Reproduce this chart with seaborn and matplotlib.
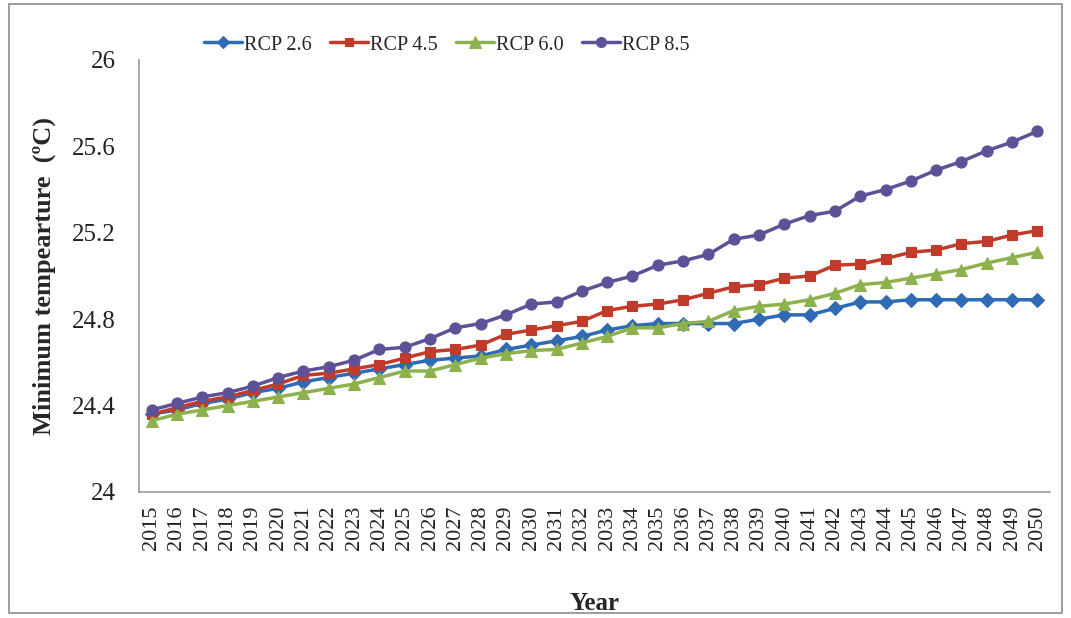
import numpy as np
import pandas as pd
import matplotlib
matplotlib.use("Agg")
import matplotlib.pyplot as plt
import seaborn as sns
from matplotlib.patches import Rectangle

# Data
years = list(range(2015, 2051))

rcp26 = [24.36, 24.38, 24.41, 24.43, 24.46, 24.48, 24.51, 24.53, 24.55, 24.57,
         24.59, 24.61, 24.62, 24.63, 24.66, 24.68, 24.70, 24.72, 24.75, 24.77,
         24.78, 24.78, 24.78, 24.78, 24.80, 24.82, 24.82, 24.85, 24.88, 24.88,
         24.89, 24.89, 24.89, 24.89, 24.89, 24.89]
rcp45 = [24.36, 24.39, 24.42, 24.44, 24.47, 24.50, 24.54, 24.55, 24.57, 24.59,
         24.62, 24.65, 24.66, 24.68, 24.73, 24.75, 24.77, 24.79, 24.84, 24.86,
         24.87, 24.89, 24.92, 24.95, 24.96, 24.99, 25.00, 25.05, 25.055, 25.08,
         25.11, 25.12, 25.15, 25.16, 25.19, 25.21]
rcp60 = [24.33, 24.36, 24.38, 24.40, 24.42, 24.44, 24.46, 24.48, 24.50, 24.53,
         24.56, 24.56, 24.59, 24.62, 24.64, 24.655, 24.66, 24.69, 24.72, 24.76,
         24.76, 24.78, 24.79, 24.84, 24.86, 24.87, 24.89, 24.92, 24.96, 24.97,
         24.99, 25.01, 25.03, 25.06, 25.085, 25.11]
rcp85 = [24.38, 24.41, 24.44, 24.46, 24.49, 24.53, 24.56, 24.58, 24.61, 24.66,
         24.67, 24.71, 24.76, 24.78, 24.82, 24.87, 24.88, 24.93, 24.97, 25.00,
         25.05, 25.07, 25.10, 25.17, 25.19, 25.24, 25.28, 25.30, 25.37, 25.40,
         25.44, 25.49, 25.53, 25.58, 25.62, 25.67]

series_names = ["RCP 2.6", "RCP 4.5", "RCP 6.0", "RCP 8.5"]
y_ticks = [24, 24.4, 24.8, 25.2, 25.6, 26]
y_tick_labels = ["24", "24.4", "24.8", "25.2", "25.6", "26"]

colors = ["#2f6ab4", "#c13b2b", "#8db14c", "#5d5198"]
markers = ["D", "s", "^", "o"]
msizes = [7, 7, 9, 8]

sns.set_style("white")
plt.rcParams["font.family"] = ["Liberation Serif", "DejaVu Serif"]

fig = plt.figure(figsize=(10.71, 6.18), dpi=100)
ax = fig.add_axes([139 / 1071, 126 / 618, 911 / 1071, 432 / 618])

# Outer chart border like the Excel chart frame
fig.patches.append(Rectangle((0.008, 0.008), 0.984, 0.986, transform=fig.transFigure,
                             fill=False, edgecolor="#8c8c8c", linewidth=1.2))

for name, vals, c, m, ms in zip(series_names, [rcp26, rcp45, rcp60, rcp85],
                                colors, markers, msizes):
    sns.lineplot(x=years, y=vals, ax=ax, color=c, marker=m, markersize=ms,
                 markeredgecolor=c, markeredgewidth=0.8, linewidth=2.5, label=name)

ax.set_xlim(2014.5, 2050.5)
ax.set_ylim(24, 26)
ax.set_xticks(years)
ax.set_xticklabels([str(y) for y in years], rotation=90, fontsize=16)
ax.set_yticks(y_ticks)
ax.set_yticklabels(y_tick_labels, fontsize=18)
ax.tick_params(axis="both", length=0, colors="#222222")
ax.tick_params(axis="x", pad=10)
ax.tick_params(axis="y", pad=17)

for s in ["top", "right"]:
    ax.spines[s].set_visible(False)
for s in ["left", "bottom"]:
    ax.spines[s].set_color("#9a9a9a")
    ax.spines[s].set_linewidth(1.2)

ax.set_xlabel("Year", fontsize=18, fontweight="bold", labelpad=30)
ax.set_ylabel("Minimum tempearture  (ºC)", fontsize=19, fontweight="bold", labelpad=11)

ax.legend(loc="center", bbox_to_anchor=(447 / 1071, 1 - 45 / 618),
          bbox_transform=fig.transFigure, ncol=4, frameon=False, fontsize=14.5,
          handlelength=1.9, handletextpad=0.1, columnspacing=0.9, markerscale=0.9)

fig.savefig("out.png", dpi=100)
